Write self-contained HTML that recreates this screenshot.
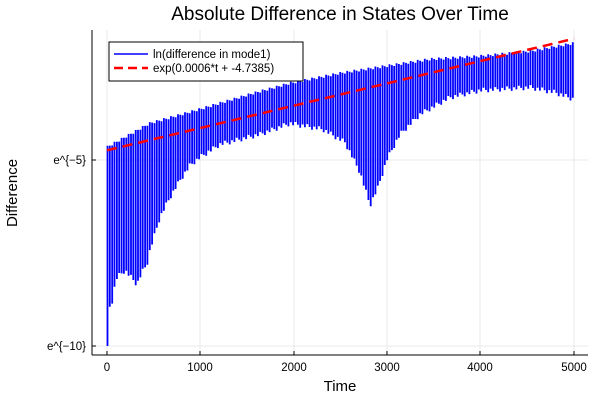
<!DOCTYPE html>
<html><head><style>
body{margin:0;background:#fff;}
svg{font-family:"Liberation Sans","DejaVu Sans",sans-serif;}
</style></head><body>
<svg id="s" width="600" height="400" xmlns="http://www.w3.org/2000/svg">
<rect width="600" height="400" fill="#fff"/>
<g stroke="#e8e8e8" stroke-width="1">
<line x1="107" y1="30" x2="107" y2="355"/><line x1="200" y1="30" x2="200" y2="355"/>
<line x1="294" y1="30" x2="294" y2="355"/><line x1="387" y1="30" x2="387" y2="355"/>
<line x1="480" y1="30" x2="480" y2="355"/><line x1="574" y1="30" x2="574" y2="355"/>
<line x1="92" y1="160" x2="588" y2="160"/><line x1="92" y1="346" x2="588" y2="346"/>
</g>
<path id="blue" fill="none" stroke="#0000ff" stroke-width="1.8"/>
<line x1="107" y1="150.3" x2="574" y2="38.7" stroke="#ff0000" stroke-width="2.5" stroke-dasharray="10,6"/>
<g stroke="#000" stroke-width="1">
<line x1="92" y1="355" x2="588" y2="355"/><line x1="92" y1="30" x2="92" y2="355"/>
<line x1="107" y1="355" x2="107" y2="351"/><line x1="200" y1="355" x2="200" y2="351"/>
<line x1="294" y1="355" x2="294" y2="351"/><line x1="387" y1="355" x2="387" y2="351"/>
<line x1="480" y1="355" x2="480" y2="351"/><line x1="574" y1="355" x2="574" y2="351"/>
<line x1="92" y1="160" x2="96" y2="160"/><line x1="92" y1="346" x2="96" y2="346"/>
</g>
<g font-size="11.5" fill="#000" text-anchor="middle">
<text x="107" y="371">0</text><text x="200" y="371">1000</text><text x="294" y="371">2000</text>
<text x="387" y="371">3000</text><text x="480" y="371">4000</text><text x="574" y="371">5000</text>
</g>
<g font-size="11.5" fill="#000" text-anchor="end">
<text x="86" y="164">e^{−5}</text><text x="86" y="350">e^{−10}</text>
</g>
<text x="340" y="391" font-size="15" text-anchor="middle">Time</text>
<text x="17" y="193" font-size="15" text-anchor="middle" transform="rotate(-90 17 193)">Difference</text>
<text x="340" y="20" font-size="19" text-anchor="middle">Absolute Difference in States Over Time</text>
<rect x="109" y="42" width="194" height="39" fill="#fff" stroke="#000" stroke-width="1"/>
<line x1="114" y1="54" x2="148" y2="54" stroke="#0000ff" stroke-width="1.5"/>
<line x1="114" y1="68" x2="148" y2="68" stroke="#ff0000" stroke-width="2.5" stroke-dasharray="9,5"/>
<text x="153" y="58" font-size="11.5">ln(difference in mode1)</text>
<text x="153" y="72" font-size="11.5">exp(0.0006*t + -4.7385)</text>
</svg>
<script>
function interp(pts,x){for(var i=0;i<pts.length-1;i++){if(x<=pts[i+1][0]){var a=pts[i],b=pts[i+1];return a[1]+(b[1]-a[1])*(x-a[0])/(b[0]-a[0]);}}return pts[pts.length-1][1];}
var U=[[107,146],[150,122],[200,108],[250,93],[290,82],[340,72],[430,58],[480,55],[530,50],[574,42]];
var L=[[107,300],[111,306],[114,288],[117,275],[125,268],[132,276],[137,282],[142,270],[147,262],[150,248],[160,215],[170,195],[180,178],[190,163],[200,155],[220,142],[260,132],[290,121],[323,127],[345,140],[360,170],[370,203],[378,185],[387,157],[400,132],[420,112],[450,95],[480,88],[530,85],[555,90],[574,97]];
var d="";var i=0;
for(var x=107.5;x<=574;x+=2.35){var u=interp(U,x)+((i%3)*1.2),l=interp(L,x)+((i*7)%5)*1.2;if(i==0)l=346;
d+="M"+x.toFixed(1)+","+u.toFixed(1)+"L"+x.toFixed(1)+","+l.toFixed(1);i++;}
document.getElementById("blue").setAttribute("d",d);
</script>
</body></html>
